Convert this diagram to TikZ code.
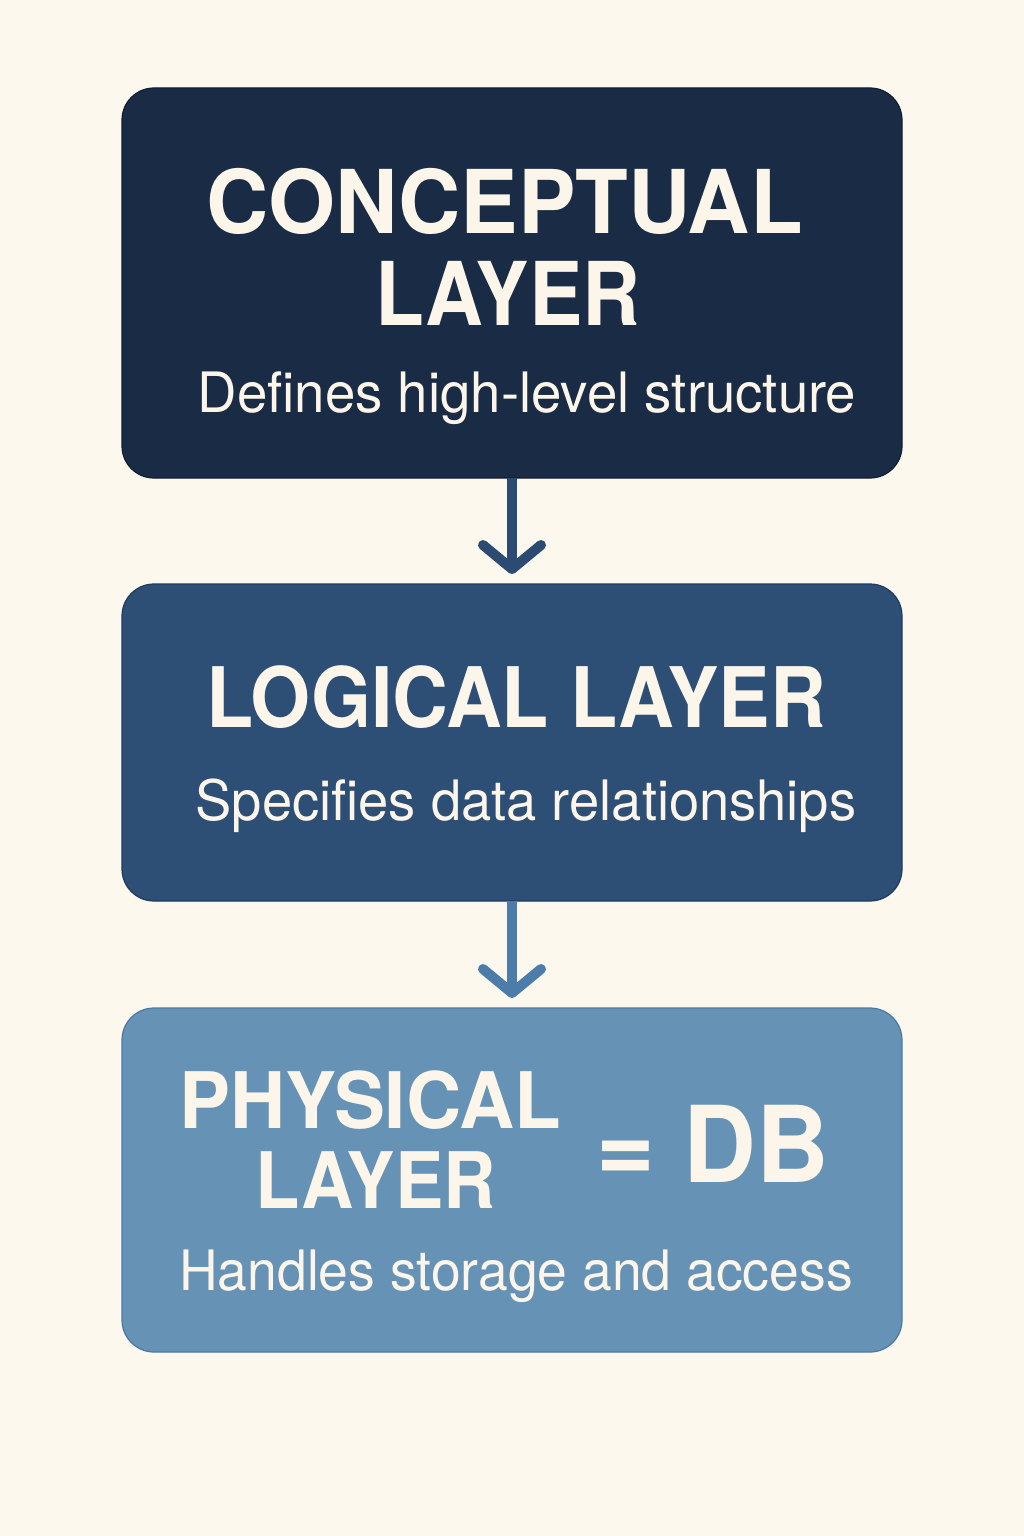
\documentclass[tikz,border=0pt]{standalone}
\usepackage{fontspec}
\setmainfont{TeX Gyre Heros}
\usetikzlibrary{arrows.meta}
\definecolor{paper}{HTML}{FCF8EE}
\definecolor{cream}{HTML}{FCF6EA}
\definecolor{navy}{HTML}{1A2B45}
\definecolor{navyedge}{HTML}{111E33}
\definecolor{midblue}{HTML}{2D4E75}
\definecolor{midedge}{HTML}{203B5E}
\definecolor{lightblue}{HTML}{6592B5}
\definecolor{lightedge}{HTML}{4B79A3}
\definecolor{arrowA}{HTML}{2C4B73}
\definecolor{arrowB}{HTML}{4C7CAA}
\tikzset{
  layerbox/.style={rounded corners=32pt, line width=1.2pt,
    minimum width=780pt, inner sep=0pt, outer sep=0pt},
  title/.style={text=cream, font=\bfseries, inner sep=0pt, anchor=base},
  subtitle/.style={text=cream, inner sep=0pt, anchor=base},
  flow/.style={line width=10pt, line cap=butt,
    -{Straight Barb[length=24pt, width=58pt, line cap=round, line join=round]},
    shorten >=10pt}
}
\begin{document}
\begin{tikzpicture}[x=1pt, y=-1pt]
  % page
  \fill[paper] (0,0) rectangle (1024,1536);
  \useasboundingbox (0,0) rectangle (1024,1536);

  % the three layers
  \node[layerbox, fill=navy, draw=navyedge, minimum height=390pt] (b1) at (512,283) {};
  \node[layerbox, fill=midblue, draw=midedge, minimum height=317pt] (b2) at (512,742.5) {};
  \node[layerbox, fill=lightblue, draw=lightedge, minimum height=344pt] (b3) at (512,1180) {};

  % connectors
  \draw[flow, arrowA] (b1.south) -- (b2.north);
  \draw[flow, arrowB] (b2.south) -- (b3.north);

  % conceptual layer
  \node[title] (t1a) at (504.5,233) {\fontsize{88}{88}\selectfont\scalebox{0.98}[1]{CONCEPTUAL}};
  \node[title] (t1b) at (508,325) {\fontsize{88}{88}\selectfont\scalebox{0.91}[1]{LAYER}};
  \node[subtitle] (s1) at (527,412) {\fontsize{55.7}{56}\selectfont\scalebox{0.98}[1]{Defines high-level structure}};

  % logical layer
  \node[title] (t2) at (516,727) {\fontsize{83.5}{84}\selectfont\scalebox{0.925}[1]{LOGICAL LAYER}};
  \node[subtitle] (s2) at (526,820) {\fontsize{55.7}{56}\selectfont\scalebox{0.975}[1]{Specifies data relationships}};

  % physical layer
  \node[title] (t3a) at (370,1128) {\fontsize{78}{78}\selectfont\scalebox{0.98}[1]{PHYSICAL}};
  \node[title] (t3b) at (376,1208) {\fontsize{78}{78}\selectfont\scalebox{0.93}[1]{LAYER}};
  \node[title] (t3c) at (713,1182) {\fontsize{106}{106}\selectfont\scalebox{0.95}[1]{= DB}};
  \node[subtitle] (s3) at (516,1290) {\fontsize{55.7}{56}\selectfont\scalebox{0.96}[1]{Handles storage and access}};
\end{tikzpicture}
\end{document}
